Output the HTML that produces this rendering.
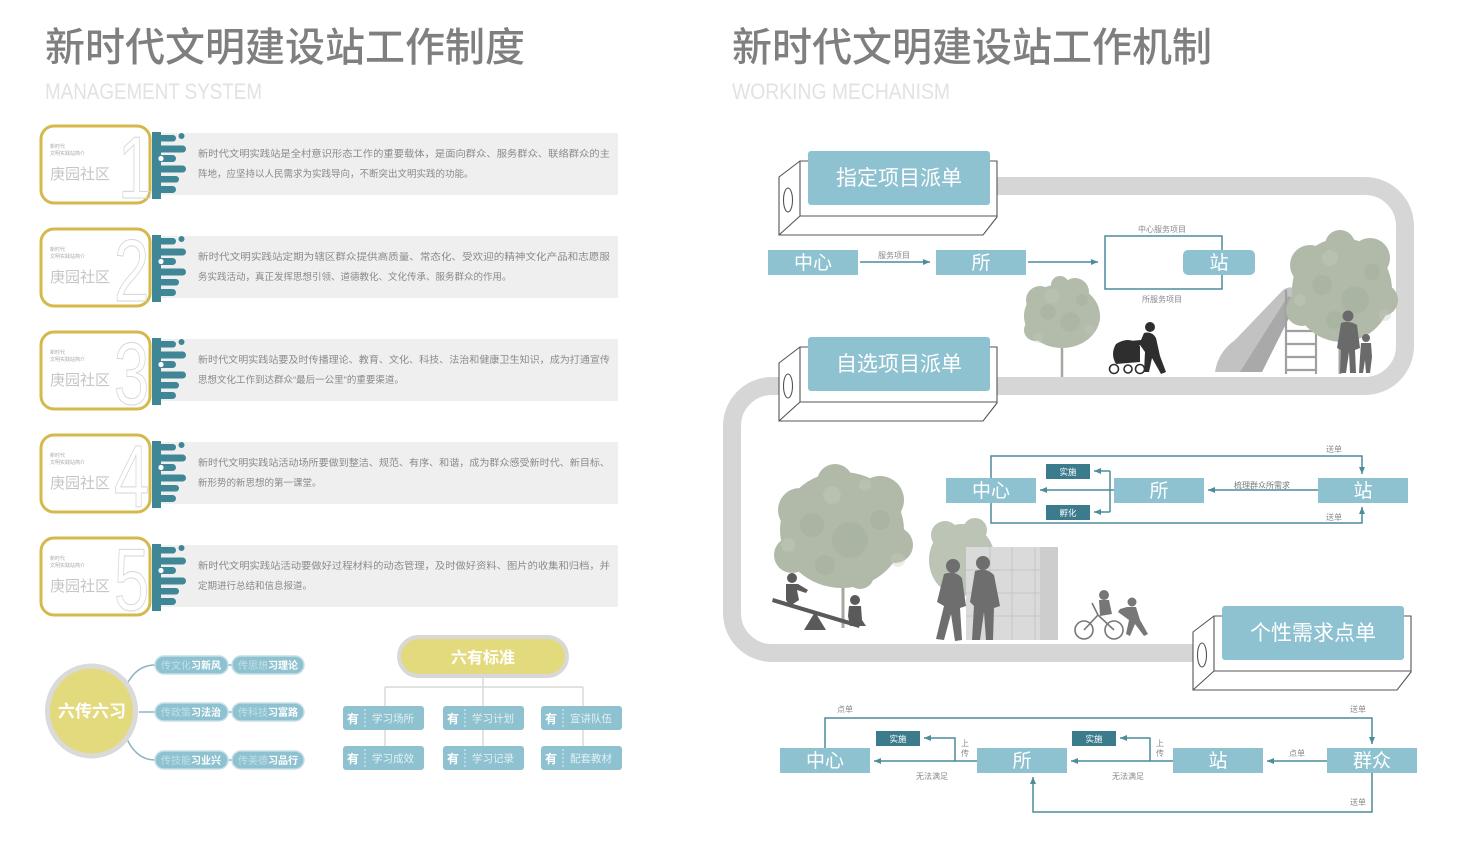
<!DOCTYPE html>
<html><head><meta charset="utf-8"><style>
html,body{margin:0;padding:0;background:#fff;}
svg{display:block;}
text{font-family:"Liberation Sans","Noto Sans CJK SC",sans-serif;}
</style></head><body>
<svg width="1460" height="850" viewBox="0 0 1460 850" xmlns="http://www.w3.org/2000/svg">
<defs>
<marker id="ah" markerWidth="8" markerHeight="8" refX="7" refY="4" orient="auto" markerUnits="userSpaceOnUse"><path d="M0,1 L7,4 L0,7 z" fill="#4d8c9b"/></marker>
<g id="icon">
  <rect x="152" y="132" width="9" height="67" fill="#3f8797"/>
  <rect x="152" y="135" width="24" height="6.5" rx="3.2" fill="#3f8797"/>
  <circle cx="181.5" cy="136" r="3" fill="#3f8797"/>
  <rect x="152" y="145.5" width="34" height="7" rx="3.5" fill="#3f8797"/>
  <rect x="152" y="155" width="24" height="7" rx="3.5" fill="#3f8797"/>
  <circle cx="161" cy="158.5" r="2.6" fill="#fff"/>
  <rect x="152" y="165.5" width="34" height="7" rx="3.5" fill="#3f8797"/>
  <rect x="152" y="176" width="27" height="6.5" rx="3.2" fill="#3f8797"/>
  <rect x="152" y="186" width="24" height="7" rx="3.5" fill="#3f8797"/>
</g>
<g id="prism" fill="none" stroke="#555" stroke-width="1.1">
  <path d="M779,177 L800,161 L997,161 L997,217 L983,235 L779,235 Z" fill="#fff"/>
  <path d="M800,161 L800,216 L997,216 M800,216 L779,235"/>
  <ellipse cx="788" cy="200" rx="4.5" ry="12"/>
</g>
</defs>

<!-- ================= LEFT ================= -->
<text x="45" y="61" font-size="40" font-weight="500" fill="#7f7f7f">新时代文明建设站工作制度</text>
<text x="45" y="99" font-size="22" fill="#e2e2e2" textLength="217" lengthAdjust="spacingAndGlyphs">MANAGEMENT SYSTEM</text>

<g id="card1">
  <rect x="158" y="133" width="460" height="62" fill="#efefef"/>
  <rect x="41" y="126" width="109" height="77" rx="13" fill="#fff" stroke="#d4b94c" stroke-width="3"/>
  <text x="50" y="148" font-size="5" fill="#aaa">新时代</text>
  <text x="50" y="155" font-size="5" fill="#aaa">文明实践站简介</text>
  <text x="50" y="179" font-size="15" fill="#c6c6c6">庚园社区</text>
  <text x="118" y="198" font-size="88" fill="none" stroke="#d6d6d6" stroke-width="1" transform="translate(118 0) scale(0.72 1) translate(-118 0)">1</text>
  <use href="#icon"/>
  <text x="198" y="157" font-size="9.5" fill="#8a8a8a" textLength="412" lengthAdjust="spacingAndGlyphs">新时代文明实践站是全村意识形态工作的重要载体，是面向群众、服务群众、联络群众的主</text>
  <text x="198" y="177" font-size="9.5" fill="#8a8a8a">阵地，应坚持以人民需求为实践导向，不断突出文明实践的功能。</text>
</g>
<g transform="translate(0 103)">
  <rect x="158" y="133" width="460" height="62" fill="#efefef"/>
  <rect x="41" y="126" width="109" height="77" rx="13" fill="#fff" stroke="#d4b94c" stroke-width="3"/>
  <text x="50" y="148" font-size="5" fill="#aaa">新时代</text>
  <text x="50" y="155" font-size="5" fill="#aaa">文明实践站简介</text>
  <text x="50" y="179" font-size="15" fill="#c6c6c6">庚园社区</text>
  <text x="114" y="198" font-size="88" fill="none" stroke="#d6d6d6" stroke-width="1" transform="translate(114 0) scale(0.72 1) translate(-114 0)">2</text>
  <use href="#icon"/>
  <text x="198" y="157" font-size="9.5" fill="#8a8a8a" textLength="412" lengthAdjust="spacingAndGlyphs">新时代文明实践站定期为辖区群众提供高质量、常态化、受欢迎的精神文化产品和志愿服</text>
  <text x="198" y="177" font-size="9.5" fill="#8a8a8a">务实践活动，真正发挥思想引领、道德教化、文化传承、服务群众的作用。</text>
</g>
<g transform="translate(0 206)">
  <rect x="158" y="133" width="460" height="62" fill="#efefef"/>
  <rect x="41" y="126" width="109" height="77" rx="13" fill="#fff" stroke="#d4b94c" stroke-width="3"/>
  <text x="50" y="148" font-size="5" fill="#aaa">新时代</text>
  <text x="50" y="155" font-size="5" fill="#aaa">文明实践站简介</text>
  <text x="50" y="179" font-size="15" fill="#c6c6c6">庚园社区</text>
  <text x="114" y="198" font-size="88" fill="none" stroke="#d6d6d6" stroke-width="1" transform="translate(114 0) scale(0.72 1) translate(-114 0)">3</text>
  <use href="#icon"/>
  <text x="198" y="157" font-size="9.5" fill="#8a8a8a" textLength="412" lengthAdjust="spacingAndGlyphs">新时代文明实践站要及时传播理论、教育、文化、科技、法治和健康卫生知识，成为打通宣传</text>
  <text x="198" y="177" font-size="9.5" fill="#8a8a8a">思想文化工作到达群众“最后一公里”的重要渠道。</text>
</g>
<g transform="translate(0 309)">
  <rect x="158" y="133" width="460" height="62" fill="#efefef"/>
  <rect x="41" y="126" width="109" height="77" rx="13" fill="#fff" stroke="#d4b94c" stroke-width="3"/>
  <text x="50" y="148" font-size="5" fill="#aaa">新时代</text>
  <text x="50" y="155" font-size="5" fill="#aaa">文明实践站简介</text>
  <text x="50" y="179" font-size="15" fill="#c6c6c6">庚园社区</text>
  <text x="114" y="198" font-size="88" fill="none" stroke="#d6d6d6" stroke-width="1" transform="translate(114 0) scale(0.72 1) translate(-114 0)">4</text>
  <use href="#icon"/>
  <text x="198" y="157" font-size="9.5" fill="#8a8a8a" textLength="412" lengthAdjust="spacingAndGlyphs">新时代文明实践站活动场所要做到整洁、规范、有序、和谐，成为群众感受新时代、新目标、</text>
  <text x="198" y="177" font-size="9.5" fill="#8a8a8a">新形势的新思想的第一课堂。</text>
</g>
<g transform="translate(0 412)">
  <rect x="158" y="133" width="460" height="62" fill="#efefef"/>
  <rect x="41" y="126" width="109" height="77" rx="13" fill="#fff" stroke="#d4b94c" stroke-width="3"/>
  <text x="50" y="148" font-size="5" fill="#aaa">新时代</text>
  <text x="50" y="155" font-size="5" fill="#aaa">文明实践站简介</text>
  <text x="50" y="179" font-size="15" fill="#c6c6c6">庚园社区</text>
  <text x="114" y="198" font-size="88" fill="none" stroke="#d6d6d6" stroke-width="1" transform="translate(114 0) scale(0.72 1) translate(-114 0)">5</text>
  <use href="#icon"/>
  <text x="198" y="157" font-size="9.5" fill="#8a8a8a" textLength="412" lengthAdjust="spacingAndGlyphs">新时代文明实践站活动要做好过程材料的动态管理，及时做好资料、图片的收集和归档，并</text>
  <text x="198" y="177" font-size="9.5" fill="#8a8a8a">定期进行总结和信息报道。</text>
</g>

<!-- 六传六习 -->
<g fill="none" stroke="#8ab4bf" stroke-width="1.5">
  <path d="M126,686 Q136,665 155,665"/>
  <path d="M139,712 H155"/>
  <path d="M126,737 Q136,760 155,760"/>
  <path d="M227,665 H233 M227,712 H233 M227,760 H233"/>
</g>
<ellipse cx="91.5" cy="711" rx="44" ry="45" fill="#e3da7e" stroke="#dadada" stroke-width="5"/>
<text x="92" y="717" font-size="17" font-weight="bold" fill="#fff" text-anchor="middle">六传六习</text>
<g font-size="10" font-weight="bold">
  <rect x="155" y="656" width="73" height="18" rx="9" fill="#8fc2d0" stroke="#c5dfe6" stroke-width="1.5"/>
  <rect x="232" y="656" width="72" height="18" rx="9" fill="#8fc2d0" stroke="#c5dfe6" stroke-width="1.5"/>
  <rect x="155" y="703" width="73" height="18" rx="9" fill="#8fc2d0" stroke="#c5dfe6" stroke-width="1.5"/>
  <rect x="232" y="703" width="72" height="18" rx="9" fill="#8fc2d0" stroke="#c5dfe6" stroke-width="1.5"/>
  <rect x="155" y="751" width="73" height="18" rx="9" fill="#8fc2d0" stroke="#c5dfe6" stroke-width="1.5"/>
  <rect x="232" y="751" width="72" height="18" rx="9" fill="#8fc2d0" stroke="#c5dfe6" stroke-width="1.5"/>
  <text x="161" y="669"><tspan fill="#c3dfe7" font-weight="normal">传文化</tspan><tspan fill="#fff">习新风</tspan></text>
  <text x="238" y="669"><tspan fill="#c3dfe7" font-weight="normal">传思想</tspan><tspan fill="#fff">习理论</tspan></text>
  <text x="161" y="716"><tspan fill="#c3dfe7" font-weight="normal">传政策</tspan><tspan fill="#fff">习法治</tspan></text>
  <text x="238" y="716"><tspan fill="#c3dfe7" font-weight="normal">传科技</tspan><tspan fill="#fff">习富路</tspan></text>
  <text x="161" y="764"><tspan fill="#c3dfe7" font-weight="normal">传技能</tspan><tspan fill="#fff">习业兴</tspan></text>
  <text x="238" y="764"><tspan fill="#c3dfe7" font-weight="normal">传美德</tspan><tspan fill="#fff">习品行</tspan></text>
</g>

<!-- 六有标准 -->
<g fill="none" stroke="#d9d9d9" stroke-width="1.5">
  <path d="M483,677 V687 M385,687 H583 M385,687 V758 M483,687 V758 M583,687 V758"/>
</g>
<rect x="399" y="637" width="168" height="39" rx="19.5" fill="#e3da7e" stroke="#d8d8d8" stroke-width="4"/>
<text x="483" y="663" font-size="16" font-weight="bold" fill="#fff" text-anchor="middle">六有标准</text>
<g>
  <rect x="343" y="706" width="81" height="24" rx="3" fill="#8fc2d0"/>
  <rect x="443" y="706" width="81" height="24" rx="3" fill="#8fc2d0"/>
  <rect x="541" y="706" width="81" height="24" rx="3" fill="#8fc2d0"/>
  <rect x="343" y="746" width="81" height="24" rx="3" fill="#8fc2d0"/>
  <rect x="443" y="746" width="81" height="24" rx="3" fill="#8fc2d0"/>
  <rect x="541" y="746" width="81" height="24" rx="3" fill="#8fc2d0"/>
  <g stroke="#e2f0f4" stroke-width="1" stroke-dasharray="2,2">
    <path d="M365,709 V727 M465,709 V727 M563,709 V727 M365,749 V767 M465,749 V767 M563,749 V767"/>
  </g>
  <g font-size="12" font-weight="bold" fill="#fff">
    <text x="347" y="723">有</text><text x="447" y="723">有</text><text x="545" y="723">有</text>
    <text x="347" y="763">有</text><text x="447" y="763">有</text><text x="545" y="763">有</text>
  </g>
  <g font-size="10.5" fill="#e2f0f4">
    <text x="372" y="722">学习场所</text><text x="472" y="722">学习计划</text><text x="570" y="722">宣讲队伍</text>
    <text x="372" y="762">学习成效</text><text x="472" y="762">学习记录</text><text x="570" y="762">配套教材</text>
  </g>
</g>

<!-- ================= RIGHT ================= -->
<text x="732" y="61" font-size="40" font-weight="500" fill="#7f7f7f">新时代文明建设站工作机制</text>
<text x="732" y="99" font-size="22" fill="#e2e2e2" textLength="218" lengthAdjust="spacingAndGlyphs">WORKING MECHANISM</text>

<!-- track -->
<path d="M985,186 H1365 A40,40 0 0 1 1405,226 V346 A40,40 0 0 1 1365,386 H772 A40,40 0 0 0 732,426 V613 A40,40 0 0 0 772,653 H1210" fill="none" stroke="#d6d6d6" stroke-width="18"/>

<!-- upper scene -->
<g>
  <line x1="1062" y1="330" x2="1062" y2="377" stroke="#a3a99f" stroke-width="2.5"/>
  <g fill="#b3bcab">
    <ellipse cx="1062" cy="316" rx="38" ry="32"/>
    <circle cx="1040" cy="300" r="14"/><circle cx="1075" cy="292" r="14"/><circle cx="1088" cy="318" r="12"/><circle cx="1035" cy="330" r="11"/><circle cx="1060" cy="285" r="9"/>
  </g>
  <g fill="#a2ac9a" opacity="0.35">
    <circle cx="1070" cy="322" r="10"/><circle cx="1048" cy="312" r="8"/><circle cx="1082" cy="300" r="6"/>
  </g>
  <g fill="#c4cbbd" opacity="0.35">
    <circle cx="1052" cy="296" r="7"/><circle cx="1090" cy="330" r="5"/><circle cx="1038" cy="338" r="5"/>
  </g>
  <!-- stroller woman -->
  <g fill="#2e2e2e">
    <circle cx="1150" cy="327" r="5"/>
    <path d="M1144,333 Q1152,331 1156,338 L1160,356 L1166,372 L1161,374 L1152,358 L1149,372 L1144,372 L1145,352 L1140,345 L1130,345 L1130,341 L1141,340 Z"/>
    <path d="M1116,344 Q1130,335 1140,346 L1140,362 L1116,364 Q1110,354 1116,344 Z"/>
  </g>
  <g fill="none" stroke="#2e2e2e" stroke-width="1.6">
    <circle cx="1114" cy="369" r="4.5"/><circle cx="1140" cy="369" r="4.5"/><circle cx="1128" cy="369" r="4"/>
  </g>
  <!-- slide -->
  <path d="M1215,372 Q1218,352 1235,340 L1283,290 Q1292,284 1300,292 L1262,372 Z" fill="#c2c2c2"/>
  <path d="M1240,372 L1288,296 L1298,300 L1262,372 Z" fill="#a9a9a9"/>
  <g stroke="#a0a0a0" stroke-width="2.2" fill="none">
    <path d="M1286,290 V374 M1316,290 V374"/>
    <path d="M1286,305 H1316 M1286,318 H1316 M1286,331 H1316 M1286,344 H1316 M1286,357 H1316 M1286,370 H1316"/>
  </g>
  <!-- big tree right -->
  <line x1="1340" y1="320" x2="1340" y2="374" stroke="#a3a99f" stroke-width="3"/>
  <g fill="#b1baa9">
    <ellipse cx="1342" cy="290" rx="50" ry="52"/>
    <circle cx="1310" cy="265" r="20"/><circle cx="1370" cy="258" r="20"/><circle cx="1340" cy="245" r="15"/><circle cx="1382" cy="300" r="16"/><circle cx="1302" cy="310" r="16"/>
  </g>
  <g fill="#9fa998" opacity="0.35">
    <circle cx="1355" cy="300" r="14"/><circle cx="1322" cy="285" r="10"/><circle cx="1372" cy="272" r="8"/><circle cx="1335" cy="320" r="9"/>
  </g>
  <g fill="#c5ccbe" opacity="0.35">
    <circle cx="1330" cy="258" r="8"/><circle cx="1385" cy="315" r="6"/><circle cx="1300" cy="300" r="6"/>
  </g>
  <!-- adult + child -->
  <g fill="#6a6a6a">
    <circle cx="1348" cy="316" r="5.5"/>
    <path d="M1341,323 Q1349,320 1357,325 L1360,348 L1355,350 L1356,373 L1350,373 L1349,352 L1346,373 L1340,373 L1341,350 L1337,348 Z"/>
    <circle cx="1366" cy="338" r="4"/>
    <path d="M1361,343 L1371,343 L1372,357 L1370,373 L1366,373 L1365,360 L1363,373 L1359,373 L1360,357 Z"/>
  </g>
</g>

<!-- prisms and title boxes -->
<use href="#prism"/>
<rect x="808" y="151" width="182" height="54" rx="3" fill="#8ec2d1"/>
<text x="899" y="185" font-size="21" fill="#fff" text-anchor="middle">指定项目派单</text>

<g transform="translate(0 186)"><use href="#prism"/></g>
<rect x="808" y="337" width="182" height="54" rx="3" fill="#8ec2d1"/>
<text x="899" y="371" font-size="21" fill="#fff" text-anchor="middle">自选项目派单</text>

<!-- flow 1 -->
<g>
  <rect x="768" y="250" width="90" height="25" fill="#8ec2d1"/>
  <text x="813" y="269" font-size="19" fill="#fff" text-anchor="middle">中心</text>
  <rect x="936" y="250" width="90" height="25" fill="#8ec2d1"/>
  <text x="981" y="269" font-size="19" fill="#fff" text-anchor="middle">所</text>
  <line x1="860" y1="262" x2="930" y2="262" stroke="#4d8c9b" stroke-width="1.5" marker-end="url(#ah)"/>
  <text x="894" y="258" font-size="8" fill="#888" text-anchor="middle">服务项目</text>
  <line x1="1028" y1="262" x2="1098" y2="262" stroke="#4d8c9b" stroke-width="1.5" marker-end="url(#ah)"/>
  <rect x="1105" y="236" width="117" height="53" fill="none" stroke="#4d8c9b" stroke-width="1.5"/>
  <rect x="1183" y="250" width="72" height="25" rx="5" fill="#8ec2d1"/>
  <text x="1219" y="269" font-size="19" fill="#fff" text-anchor="middle">站</text>
  <text x="1162" y="232" font-size="8" fill="#888" text-anchor="middle">中心服务项目</text>
  <text x="1162" y="302" font-size="8" fill="#888" text-anchor="middle">所服务项目</text>
</g>

<!-- lower scene -->
<g>
  <line x1="843" y1="560" x2="843" y2="628" stroke="#a3a99f" stroke-width="3"/>
  <g fill="#b1baa9">
    <ellipse cx="842" cy="530" rx="62" ry="58"/>
    <circle cx="800" cy="510" r="22"/><circle cx="880" cy="500" r="24"/><circle cx="835" cy="482" r="18"/><circle cx="792" cy="555" r="18"/><circle cx="895" cy="545" r="18"/><circle cx="860" cy="575" r="14"/>
  </g>
  <g fill="#9fa998" opacity="0.35">
    <circle cx="850" cy="540" r="18"/><circle cx="812" cy="525" r="12"/><circle cx="880" cy="520" r="10"/><circle cx="825" cy="565" r="10"/>
  </g>
  <g fill="#c5ccbe" opacity="0.35">
    <circle cx="832" cy="495" r="9"/><circle cx="898" cy="560" r="7"/><circle cx="788" cy="545" r="7"/><circle cx="865" cy="485" r="6"/>
  </g>
  <!-- seesaw -->
  <g fill="#5a5a5a">
    <path d="M773,598 L860,624 L859,628 L772,602 Z"/>
    <path d="M804,630 L815,612 L826,630 Z"/>
    <circle cx="792" cy="578" r="5"/>
    <path d="M786,584 L798,584 L808,590 L806,593 L797,590 L799,600 L790,606 L786,600 Z"/>
    <circle cx="855" cy="600" r="5"/>
    <path d="M849,606 L861,606 L862,620 L866,626 L850,626 L848,616 Z"/>
  </g>
  <!-- small tree behind lockers -->
  <g fill="#bcc4b5">
    <ellipse cx="962" cy="560" rx="33" ry="36"/>
    <circle cx="945" cy="535" r="14"/><circle cx="975" cy="530" r="12"/>
  </g>
  <!-- lockers -->
  <rect x="966" y="547" width="92" height="93" fill="#dadada"/>
  <g stroke="#c6c6c6" stroke-width="1">
    <path d="M990,547 V640 M1012,547 V640 M1035,547 V640 M966,570 H1058 M966,593 H1058 M966,616 H1058"/>
  </g>
  <rect x="1040" y="547" width="18" height="93" fill="#cdcdcd"/>
  <!-- two people -->
  <g fill="#6e6e6e">
    <circle cx="953" cy="566" r="7"/>
    <path d="M944,574 Q955,570 962,578 L966,606 L960,608 L962,640 L955,641 L951,614 L944,640 L936,639 L944,606 L937,602 Z"/>
    <circle cx="983" cy="563" r="7"/>
    <path d="M975,571 Q986,567 994,575 L1000,606 L994,608 L993,640 L986,640 L984,612 L980,640 L972,640 L974,606 L970,602 Z"/>
  </g>
  <!-- bike kids -->
  <g fill="none" stroke="#777" stroke-width="1.6">
    <circle cx="1084" cy="630" r="9"/><circle cx="1114" cy="630" r="9"/>
    <path d="M1084,630 L1098,615 L1114,630 M1098,615 L1092,603"/>
  </g>
  <g fill="#777">
    <circle cx="1104" cy="595" r="5"/>
    <path d="M1099,600 L1109,600 L1112,614 L1100,616 Z"/>
    <circle cx="1132" cy="602" r="4.5"/>
    <path d="M1127,607 L1136,607 L1140,620 L1148,634 L1144,636 L1135,624 L1130,636 L1126,634 L1129,620 L1118,612 L1120,609 Z"/>
  </g>
</g>

<!-- flow 2 -->
<g>
  <path d="M991,478 V456 H1362 V474" fill="none" stroke="#4d8c9b" stroke-width="1.5" marker-end="url(#ah)"/>
  <path d="M991,503 V523 H1362 V507" fill="none" stroke="#4d8c9b" stroke-width="1.5" marker-end="url(#ah)"/>
  <text x="1334" y="452" font-size="8" fill="#888" text-anchor="middle">送单</text>
  <text x="1334" y="520" font-size="8" fill="#888" text-anchor="middle">送单</text>
  <rect x="946" y="478" width="90" height="25" fill="#8ec2d1"/>
  <text x="991" y="497" font-size="19" fill="#fff" text-anchor="middle">中心</text>
  <rect x="1114" y="478" width="90" height="25" fill="#8ec2d1"/>
  <text x="1159" y="497" font-size="19" fill="#fff" text-anchor="middle">所</text>
  <rect x="1318" y="478" width="90" height="25" fill="#8ec2d1"/>
  <text x="1363" y="497" font-size="19" fill="#fff" text-anchor="middle">站</text>
  <line x1="1318" y1="490" x2="1208" y2="490" stroke="#4d8c9b" stroke-width="1.5" marker-end="url(#ah)"/>
  <text x="1262" y="488" font-size="8" fill="#777" text-anchor="middle">梳理群众所需求</text>
  <line x1="1114" y1="490" x2="1040" y2="490" stroke="#4d8c9b" stroke-width="1.5" marker-end="url(#ah)"/>
  <path d="M1110,471 V512" stroke="#4d8c9b" stroke-width="1.5" fill="none"/>
  <line x1="1110" y1="471" x2="1094" y2="471" stroke="#4d8c9b" stroke-width="1.5" marker-end="url(#ah)"/>
  <line x1="1110" y1="512" x2="1094" y2="512" stroke="#4d8c9b" stroke-width="1.5" marker-end="url(#ah)"/>
  <rect x="1046" y="464" width="44" height="15" fill="#3c7b8b"/>
  <text x="1068" y="475" font-size="8.5" fill="#fff" text-anchor="middle">实施</text>
  <rect x="1046" y="505" width="44" height="15" fill="#3c7b8b"/>
  <text x="1068" y="516" font-size="8.5" fill="#fff" text-anchor="middle">孵化</text>
</g>

<!-- prism 3 -->
<g transform="translate(414 455)"><use href="#prism"/></g>
<rect x="1222" y="606" width="182" height="54" rx="3" fill="#8ec2d1"/>
<text x="1313" y="640" font-size="21" fill="#fff" text-anchor="middle">个性需求点单</text>

<!-- flow 3 -->
<g>
  <path d="M825,748 V718 H1372 V744" fill="none" stroke="#4d8c9b" stroke-width="1.5" marker-end="url(#ah)"/>
  <path d="M1372,773 V812 H1033 V777" fill="none" stroke="#4d8c9b" stroke-width="1.5" marker-end="url(#ah)"/>
  <text x="845" y="712" font-size="8" fill="#888" text-anchor="middle">点单</text>
  <text x="1358" y="712" font-size="8" fill="#888" text-anchor="middle">送单</text>
  <text x="1358" y="805" font-size="8" fill="#888" text-anchor="middle">送单</text>

  <rect x="780" y="748" width="90" height="25" fill="#8ec2d1"/>
  <text x="825" y="767" font-size="19" fill="#fff" text-anchor="middle">中心</text>
  <rect x="977" y="748" width="90" height="25" fill="#8ec2d1"/>
  <text x="1022" y="767" font-size="19" fill="#fff" text-anchor="middle">所</text>
  <rect x="1173" y="748" width="90" height="25" fill="#8ec2d1"/>
  <text x="1218" y="767" font-size="19" fill="#fff" text-anchor="middle">站</text>
  <rect x="1327" y="748" width="90" height="25" fill="#8ec2d1"/>
  <text x="1372" y="767" font-size="19" fill="#fff" text-anchor="middle">群众</text>

  <line x1="1327" y1="761" x2="1267" y2="761" stroke="#4d8c9b" stroke-width="1.5" marker-end="url(#ah)"/>
  <text x="1297" y="756" font-size="8" fill="#888" text-anchor="middle">点单</text>
  <line x1="1173" y1="761" x2="1071" y2="761" stroke="#4d8c9b" stroke-width="1.5" marker-end="url(#ah)"/>
  <text x="1128" y="779" font-size="8" fill="#888" text-anchor="middle">无法满足</text>
  <path d="M1150,761 V738 H1120" fill="none" stroke="#4d8c9b" stroke-width="1.5" marker-end="url(#ah)"/>
  <rect x="1072" y="731" width="44" height="15" fill="#3c7b8b"/>
  <text x="1094" y="742" font-size="8.5" fill="#fff" text-anchor="middle">实施</text>
  <text x="1160" y="746" font-size="8" fill="#888" text-anchor="middle">上</text>
  <text x="1160" y="756" font-size="8" fill="#888" text-anchor="middle">传</text>

  <line x1="977" y1="761" x2="874" y2="761" stroke="#4d8c9b" stroke-width="1.5" marker-end="url(#ah)"/>
  <text x="932" y="779" font-size="8" fill="#888" text-anchor="middle">无法满足</text>
  <path d="M955,761 V738 H924" fill="none" stroke="#4d8c9b" stroke-width="1.5" marker-end="url(#ah)"/>
  <rect x="876" y="731" width="44" height="15" fill="#3c7b8b"/>
  <text x="898" y="742" font-size="8.5" fill="#fff" text-anchor="middle">实施</text>
  <text x="965" y="746" font-size="8" fill="#888" text-anchor="middle">上</text>
  <text x="965" y="756" font-size="8" fill="#888" text-anchor="middle">传</text>
</g>
</svg>
</body></html>
